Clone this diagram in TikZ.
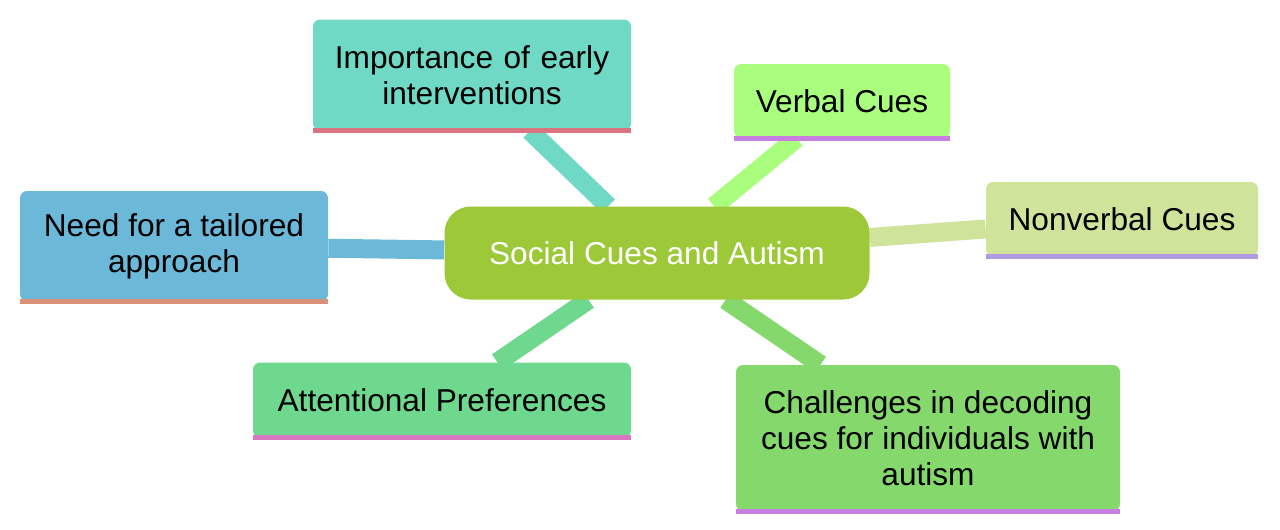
\documentclass[tikz,border=0pt]{standalone}
\usepackage{fontspec}
\setmainfont{Liberation Sans}
\usetikzlibrary{backgrounds}
\begin{document}
\begin{tikzpicture}
          [x=0.02cm, y=-0.02cm,
           topic/.style = {rounded corners=4pt, inner sep=0pt, align=center,
                           font=\fontsize{18}{20.5}\selectfont},
           branch/.style = {line width=0.38cm}]

% Define branch colors
\colorlet{rootcolor}{green!50!black!20!yellow!70!lime}
\definecolor{rootcolor}{HTML}{9DC939}
\definecolor{earlycolor}{HTML}{6FD9C5}
\definecolor{verbalcolor}{HTML}{A9FF7D}
\definecolor{nonverbalcolor}{HTML}{CFE39A}
\definecolor{tailorcolor}{HTML}{6CB8D8}
\definecolor{attentioncolor}{HTML}{6ED88E}
\definecolor{decodecolor}{HTML}{85D96C}

\useasboundingbox (0,0) rectangle (1280,529);

% Root
  \node [topic, fill=rootcolor, text=white, rounded corners=15pt,
         minimum width=425*0.02cm, minimum height=93*0.02cm] (social) at (657,253) {Social Cues and Autism};

% Children
  \node [topic, fill=earlycolor, minimum width=318*0.02cm, minimum height=111*0.02cm, text width=300*0.02cm] (early) at (472,75) {Importance of early\\interventions};
  \node [topic, fill=verbalcolor, minimum width=216*0.02cm, minimum height=74*0.02cm] (verbal) at (842,101) {Verbal Cues};
  \node [topic, fill=nonverbalcolor, minimum width=272*0.02cm, minimum height=74*0.02cm] (nonverbal) at (1122,219) {Nonverbal Cues};
  \node [topic, fill=tailorcolor, minimum width=308*0.02cm, minimum height=110*0.02cm] (tailor) at (174,246) {Need for a tailored\\approach};
  \node [topic, fill=attentioncolor, minimum width=378*0.02cm, minimum height=75*0.02cm] (attention) at (442,400) {Attentional Preferences};
  \node [topic, fill=decodecolor, minimum width=384*0.02cm, minimum height=146*0.02cm] (decode) at (928,438) {Challenges in decoding\\cues for individuals with\\autism};

% Underlines
  \draw [line width=5*0.02cm, color={rgb,255:red,217;green,115;blue,127}] (early.south west) -- (early.south east);
  \draw [line width=5*0.02cm, color={rgb,255:red,199;green,126;blue,224}] (verbal.south west) -- (verbal.south east);
  \draw [line width=5*0.02cm, color={rgb,255:red,176;green,154;blue,224}] (nonverbal.south west) -- (nonverbal.south east);
  \draw [line width=5*0.02cm, color={rgb,255:red,217;green,145;blue,122}] (tailor.south west) -- (tailor.south east);
  \draw [line width=5*0.02cm, color={rgb,255:red,217;green,119;blue,192}] (attention.south west) -- (attention.south east);
  \draw [line width=5*0.02cm, color={rgb,255:red,199;green,126;blue,224}] (decode.south west) -- (decode.south east);

% Branches behind the nodes
\begin{pgfonlayer}{background}
  \draw [branch, earlycolor] (social) -- (early);
  \draw [branch, verbalcolor] (social) -- (verbal);
  \draw [branch, nonverbalcolor] (social) -- (nonverbal);
  \draw [branch, tailorcolor] (social) -- (tailor);
  \draw [branch, attentioncolor] (social) -- (attention);
  \draw [branch, decodecolor] (social) -- (decode);
\end{pgfonlayer}

\end{tikzpicture}
\end{document}
